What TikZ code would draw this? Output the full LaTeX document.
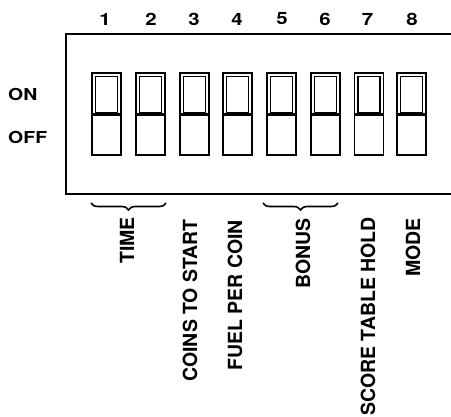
\documentclass[tikz,border=0pt]{standalone}
\usepackage{fontspec}
\setmainfont{TeX Gyre Heros}
\usetikzlibrary{decorations.pathreplacing}
\tikzset{
  num/.style={font=\fontsize{17}{17}\selectfont\bfseries, inner sep=0pt, xscale=1.2},
  side/.style={font=\fontsize{16.5}{16.5}\selectfont\bfseries, inner sep=0pt, anchor=west, xscale=1.18},
  lab/.style={font=\fontsize{19.5}{19.5}\selectfont\bfseries, inner sep=0pt, rotate=90, anchor=east},
  frame/.style={line width=2.6pt},
  brc/.style={line width=1.6pt, decorate, decoration={brace, amplitude=7pt}},
}
\newcommand{\dipsw}[3]{%
  \draw[line width=1.9pt] (#1-14.5,73) rectangle (#1+14.5,155);
  \draw[line width=1.4pt] (#1-11,76.5) rectangle (#1+11,113);
  \draw[line width=3.2pt] (#1-14.5,114.5) -- (#1+14.5,114.5);
  \node[num] (n#2) at (#3,19) {#2};
}
\begin{document}
\begin{tikzpicture}[x=1pt,y=-1pt]
\useasboundingbox (0,0) rectangle (451,417);
\draw[frame] (452,34) -- (66,34) -- (66,194) -- (452,194);
\dipsw{106.5}{1}{105}
\dipsw{150.5}{2}{151}
\dipsw{194.5}{3}{194}
\dipsw{237.5}{4}{237}
\dipsw{281.5}{5}{282}
\dipsw{325.5}{6}{325}
\dipsw{369}{7}{367.5}
\dipsw{411.5}{8}{412}
\node[side] (on) at (8,94) {ON};
\node[side] (off) at (8,137.5) {OFF};
\coordinate (b1r) at (166,203);
\coordinate (b1l) at (91,203);
\coordinate (b2r) at (338,203);
\coordinate (b2l) at (263,203);
\draw[brc] (b1r) -- (b1l);
\draw[brc] (b2r) -- (b2l);
\node[lab] (time) at (127,217) {TIME};
\node[lab] (coins) at (190,219) {COINS TO START};
\node[lab] (fuel) at (235,220) {FUEL PER COIN};
\node[lab] (bonus) at (303,218) {BONUS};
\node[lab] (score) at (368,217) {SCORE TABLE HOLD};
\node[lab] (mode) at (413,218) {MODE};
\end{tikzpicture}
\end{document}
